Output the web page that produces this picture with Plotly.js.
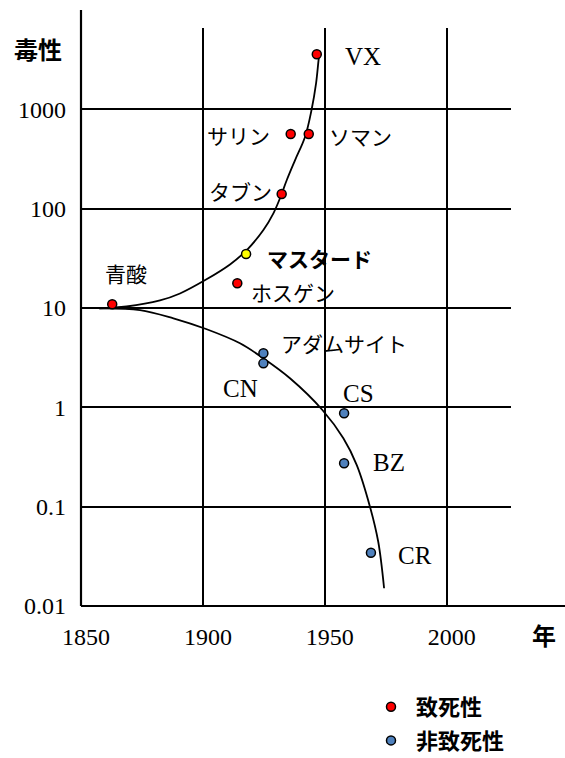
<!DOCTYPE html>
<html>
<head>
<meta charset="utf-8">
<script src="https://cdn.plot.ly/plotly-3.0.1.min.js"></script>
<style>
  html, body { margin: 0; padding: 0; background: #fff; }
  #chart { width: 565px; height: 758px; }
</style>
</head>
<body>
<div id="chart"></div>
<script>
// ---- data ----
const lethalNames = ['青酸', 'ホスゲン', 'マスタード', 'タブン', 'サリン', 'ソマン', 'VX'];
const lethalYears = [1862.8, 1914.1, 1917.7, 1932.3, 1936.0, 1943.4, 1946.7];
const lethalToxicity = [10.9, 17.7, 34.9, 140, 564, 564, 3573];

const nonLethalNames = ['アダムサイト', 'CN', 'CS', 'BZ', 'CR'];
const nonLethalYears = [1924.8, 1924.8, 1957.9, 1957.9, 1968.9];
const nonLethalToxicity = [3.50, 2.77, 0.871, 0.273, 0.0344];

const upperCurveYears = [1857.5, 1868.7, 1882.4, 1890.6, 1901.3, 1911.1, 1918.0, 1924.8, 1928.9, 1931.6, 1934.4, 1937.8, 1941.9, 1944.6, 1946.4, 1947.7, 1948.1];
const upperCurveValues = [9.9, 10.34, 11.9, 13.98, 19.3, 27.4, 38.3, 60.9, 89.7, 127, 194, 308, 529, 1000, 1824, 3516, 3857];

const lowerCurveYears = [1857.5, 1874.2, 1887.9, 1901.3, 1915.2, 1924.8, 1935.7, 1949.0, 1957.6, 1963.1, 1968.5, 1971.9, 1974.3];
const lowerCurveValues = [9.9, 9.53, 7.87, 6.14, 4.41, 3.11, 1.96, 0.94, 0.488, 0.262, 0.100, 0.0443, 0.0151];

const xTickValues = [1850, 1900, 1950, 2000];
const xTickLabels = ['1850', '1900', '1950', '2000'];
const yTickValues = [0.01, 0.1, 1, 10, 100, 1000];
const yTickLabels = ['0.01', '0.1', '1', '10', '100', '1000'];

const legendNames = ['致死性', '非致死性'];
const yAxisLabel = '毒性';
const xAxisLabel = '年';

// ---- styling ----
const RED = '#ff0000', YELLOW = '#ffff00', BLUE = '#4f81bd';
const SERIF = 'Liberation Serif';
const CJK = 'Noto Sans CJK JP';

const W = 565, H = 758;
const M = { l: 81, r: 54, t: 28, b: 152, autoexpand: false };
const PW = W - M.l - M.r, PH = H - M.t - M.b;
const px2x = px => (px - M.l) / PW;
const py2y = py => (H - M.b - py) / PH;

const lethalColors = lethalNames.map(n => n === 'マスタード' ? YELLOW : RED);

const traces = [
  { x: upperCurveYears, y: upperCurveValues, mode: 'lines', type: 'scatter',
    line: { color: '#000', width: 1.8, shape: 'spline' }, showlegend: false, hoverinfo: 'skip' },
  { x: lowerCurveYears, y: lowerCurveValues, mode: 'lines', type: 'scatter',
    line: { color: '#000', width: 1.8, shape: 'spline' }, showlegend: false, hoverinfo: 'skip' },
  { x: lethalYears, y: lethalToxicity, text: lethalNames, mode: 'markers', type: 'scatter',
    name: '\u00a0' + legendNames[0], legendgroup: 'a',
    marker: { color: lethalColors, size: 9, line: { color: '#000', width: 1.5 } } },
  { x: nonLethalYears, y: nonLethalToxicity, text: nonLethalNames, mode: 'markers', type: 'scatter',
    name: '\u00a0' + legendNames[1], legendgroup: 'b',
    marker: { color: BLUE, size: 9, line: { color: '#000', width: 1.5 } } }
];

// label positions (pixel centres)
const labelPos = {
  '青酸': [126, 272.5], 'VX': [363, 56.7], 'サリン': [238, 135], 'ソマン': [360, 136],
  'タブン': [240, 191.5], 'マスタード': [319, 258], 'ホスゲン': [293, 292],
  'アダムサイト': [344, 343], 'CN': [240, 388], 'CS': [358, 393], 'BZ': [388.7, 462.5], 'CR': [415, 555]
};
const isLatin = s => /^[A-Z]+$/.test(s);
const annotations = lethalNames.concat(nonLethalNames).map(n => ({
  text: n, xref: 'paper', yref: 'paper', x: px2x(labelPos[n][0]), y: py2y(labelPos[n][1]),
  xanchor: 'center', yanchor: 'middle', showarrow: false,
  font: isLatin(n) ? { family: SERIF, size: 25, color: '#000' }
                   : { family: CJK, size: 21, color: '#000', weight: n === 'マスタード' ? 'bold' : 'normal' }
}));
annotations.push({ text: yAxisLabel, xref: 'paper', yref: 'paper', x: px2x(37.7), y: py2y(48.3),
  xanchor: 'center', yanchor: 'middle', showarrow: false,
  font: { family: CJK, size: 24, color: '#000', weight: 'bold' } });
annotations.push({ text: xAxisLabel, xref: 'paper', yref: 'paper', x: px2x(544), y: py2y(634),
  xanchor: 'center', yanchor: 'middle', showarrow: false,
  font: { family: CJK, size: 24, color: '#000', weight: 'bold' } });

const layout = {
  width: W, height: H, margin: M, paper_bgcolor: '#fff', plot_bgcolor: '#fff',
  font: { family: SERIF, size: 24, color: '#000' },
  xaxis: {
    range: [1850, 1850 + PW / 2.4384], tickvals: xTickValues, ticktext: xTickLabels,
    showgrid: true, gridcolor: '#000', gridwidth: 2, zeroline: false, showline: false,
    ticks: '', ticklabelstandoff: 14, ticklabelshift: 5, automargin: false,
    tickfont: { family: SERIF, size: 24, color: '#000' }, fixedrange: true
  },
  yaxis: {
    type: 'log', range: [-2, -2 + PH / 99.35], tickvals: yTickValues, ticktext: yTickLabels,
    showgrid: true, gridcolor: '#000', gridwidth: 2, zeroline: false, showline: false,
    ticks: '', ticklabelstandoff: 14, automargin: false,
    tickfont: { family: SERIF, size: 24, color: '#000' }, fixedrange: true
  },
  shapes: [
    { type: 'line', xref: 'paper', yref: 'paper', x0: 0, x1: 0, y0: 0, y1: py2y(10),
      line: { color: '#000', width: 2.2 }, layer: 'below' },
    { type: 'line', xref: 'paper', yref: 'paper', x0: 0, x1: px2x(565), y0: 0, y1: 0,
      line: { color: '#000', width: 2.2 }, layer: 'below' }
  ],
  annotations: annotations,
  showlegend: true,
  legend: {
    xref: 'container', yref: 'container',
    x: 371 / W, y: 1 - 686 / H, xanchor: 'left', yanchor: 'top',
    bgcolor: 'rgba(0,0,0,0)', tracegroupgap: 2,
    font: { family: CJK, size: 22, color: '#000', weight: 'bold' }
  }
};

Plotly.newPlot('chart', traces, layout, { displayModeBar: false, staticPlot: true });
</script>
</body>
</html>
